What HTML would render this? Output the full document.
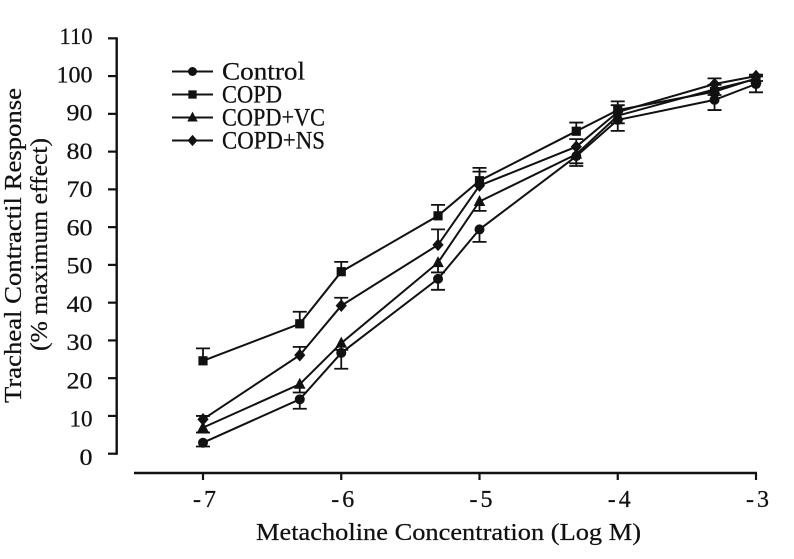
<!DOCTYPE html>
<html>
<head>
<meta charset="utf-8">
<title>Tracheal Contractil Response</title>
<style>
html,body{margin:0;padding:0;background:#fff;}
svg{display:block;}
text{font-family:"Liberation Serif",serif;fill:#111;stroke:#111;stroke-width:0.25;}
</style>
</head>
<body>
<svg id="chart" xmlns="http://www.w3.org/2000/svg" width="794" height="559" viewBox="0 0 794 559">
<g id="errors"></g>
<g id="lines"></g>
<g id="markers"></g>
<g id="axes"></g>
<g id="legend"></g>
<text transform="translate(21,403) rotate(-90)" font-size="24.5" textLength="315" lengthAdjust="spacingAndGlyphs">Tracheal Contractil Response</text>
<text transform="translate(47,351) rotate(-90)" font-size="24.5" textLength="213" lengthAdjust="spacingAndGlyphs">(% maximum effect)</text>
<text x="256" y="540" font-size="24.5" textLength="385" lengthAdjust="spacingAndGlyphs">Metacholine Concentration (Log M)</text>
</svg>
<script>
const doses = [-7, -6.3, -6, -5.3, -5, -4.3, -4, -3.3, -3];
const yTicks = [0, 10, 20, 30, 40, 50, 60, 70, 80, 90, 100, 110];
const xTicks = [-7, -6, -5, -4, -3];
const seriesNames = ["Control", "COPD", "COPD+VC", "COPD+NS"];
const controlValues = [2.9, 14.4, 26.7, 46.3, 59.4, 78.8, 88.4, 93.7, 97.9];
const controlErrors = [-1.0, -2.5, -4.2, -2.9, -3.3, -2.6, -2.9, -2.7, -2.2];
const copdValues = [24.6, 34.4, 48.2, 63.0, 72.3, 85.4, 91.0, 95.9, 99.4];
const copdErrors = [3.3, 3.2, 2.6, 2.9, 3.4, 2.3, 2.3, 1.8, 0.5];
const vcValues = [6.9, 18.4, 29.3, 50.6, 66.8, 79.3, 89.5, 96.5, 99.2];
const vcErrors = [-1.3, -2.2, -1.8, -2.6, -2.5, -2.4, -2.0, -1.5, -0.5];
const nsValues = [9.1, 26.1, 39.2, 55.3, 71.0, 81.3, 90.5, 97.9, 100.0];
const nsErrors = [0.9, 2.2, 2.1, 4.1, 3.7, 2.0, 1.8, 1.5, 0.4];

const SVG_NS = "http://www.w3.org/2000/svg";
const INK = "#111";
function x(v) { return 203 + (v + 7) * 138.25; }
function y(v) { return 453.7 - v * 3.776; }
function yLabel(v) { return 465 - v * 3.827; }
function make(tag, attrs, parent) {
  const el = document.createElementNS(SVG_NS, tag);
  for (const k in attrs) el.setAttribute(k, attrs[k]);
  parent.appendChild(el);
  return el;
}
function labelWidth(s) {
  return s.split("").reduce(function (w, c) {
    return w + (c === "1" ? 10 : 13);
  }, 0);
}
function drawMarker(kind, cx, cy, parent, scale) {
  const k = scale || 1;
  if (kind === 0) {
    return make("circle", { cx: cx, cy: cy, r: 5 * k, fill: INK }, parent);
  }
  if (kind === 1) {
    return make("rect", { x: cx - 4.6 * k, y: cy - 4.6 * k, width: 9.2 * k, height: 9.2 * k, fill: INK }, parent);
  }
  if (kind === 2) {
    return make("polygon", { points: [cx, cy - 6.5 * k, cx + 5.8 * k, cy + 4.5 * k, cx - 5.8 * k, cy + 4.5 * k].join(","), fill: INK }, parent);
  }
  return make("polygon", { points: [cx, cy - 6.3 * k, cx + 5.6 * k, cy, cx, cy + 6.3 * k, cx - 5.6 * k, cy].join(","), fill: INK }, parent);
}
const allValues = [controlValues, copdValues, vcValues, nsValues];
const allErrors = [controlErrors, copdErrors, vcErrors, nsErrors];
const errorsG = document.getElementById("errors");
const linesG = document.getElementById("lines");
const markersG = document.getElementById("markers");
const axesG = document.getElementById("axes");
const legendG = document.getElementById("legend");

allValues.forEach(function (vals, s) {
  const errs = allErrors[s];
  const pts = vals.map(function (v, i) { return x(doses[i]).toFixed(1) + "," + y(v).toFixed(1); }).join(" ");
  const line = make("polyline", { points: pts, fill: "none", stroke: INK, "stroke-width": 2 }, linesG);
  
  
  vals.forEach(function (v, i) {
    const cx = x(doses[i]);
    const cy = y(v);
    const end = y(v + errs[i]);
    const bar = make("path", {
      d: "M" + cx + " " + cy + "V" + end + "M" + (cx - 7) + " " + end + "H" + (cx + 7),
      fill: "none", stroke: INK, "stroke-width": 1.8
    }, errorsG);
    
    
    const m = drawMarker(s, cx, cy, markersG, 1);
    
    
  });
});

const yAxis = make("line", { x1: 116.7, x2: 116.7, y1: y(110) - 1, y2: y(0) + 1, stroke: INK, "stroke-width": 2.4 }, axesG);


const xAxis = make("line", { x1: 134, x2: x(-3) + 1, y1: 473, y2: 473, stroke: INK, "stroke-width": 2.4 }, axesG);



yTicks.forEach(function (v) {
  const t = make("line", { x1: 108, x2: 117, y1: y(v), y2: y(v), stroke: INK, "stroke-width": 2.2 }, axesG);
  
  
  const s = String(v);
  const label = make("text", { x: 92.5, y: yLabel(v), "font-size": 23, "text-anchor": "end", textLength: labelWidth(s), lengthAdjust: "spacingAndGlyphs" }, axesG);
  label.textContent = s;
  
  
});
xTicks.forEach(function (v) {
  const t = make("line", { x1: x(v), x2: x(v), y1: 473, y2: 480, stroke: INK, "stroke-width": 2.2 }, axesG);
  
  
  const s = String(v);
  const label = make("text", { x: x(v) + 1.5, y: 507, "font-size": 24, "text-anchor": "middle", textLength: 23, lengthAdjust: "spacing" }, axesG);
  label.textContent = s;
  
  
});

const legendWidths = [83, 60, 103, 103];
seriesNames.forEach(function (name, s) {
  const ly = 71.5 + s * 23;
  const l = make("line", { x1: 172, x2: 213, y1: ly, y2: ly, stroke: INK, "stroke-width": 2 }, legendG);
  
  
  const m = drawMarker(s, 192.5, ly, legendG, 0.9);
  
  
  const t = make("text", { x: 222, y: ly + 8, "font-size": 25, textLength: legendWidths[s], lengthAdjust: "spacingAndGlyphs" }, legendG);
  t.textContent = name;
  
  
});
</script>
</body>
</html>
